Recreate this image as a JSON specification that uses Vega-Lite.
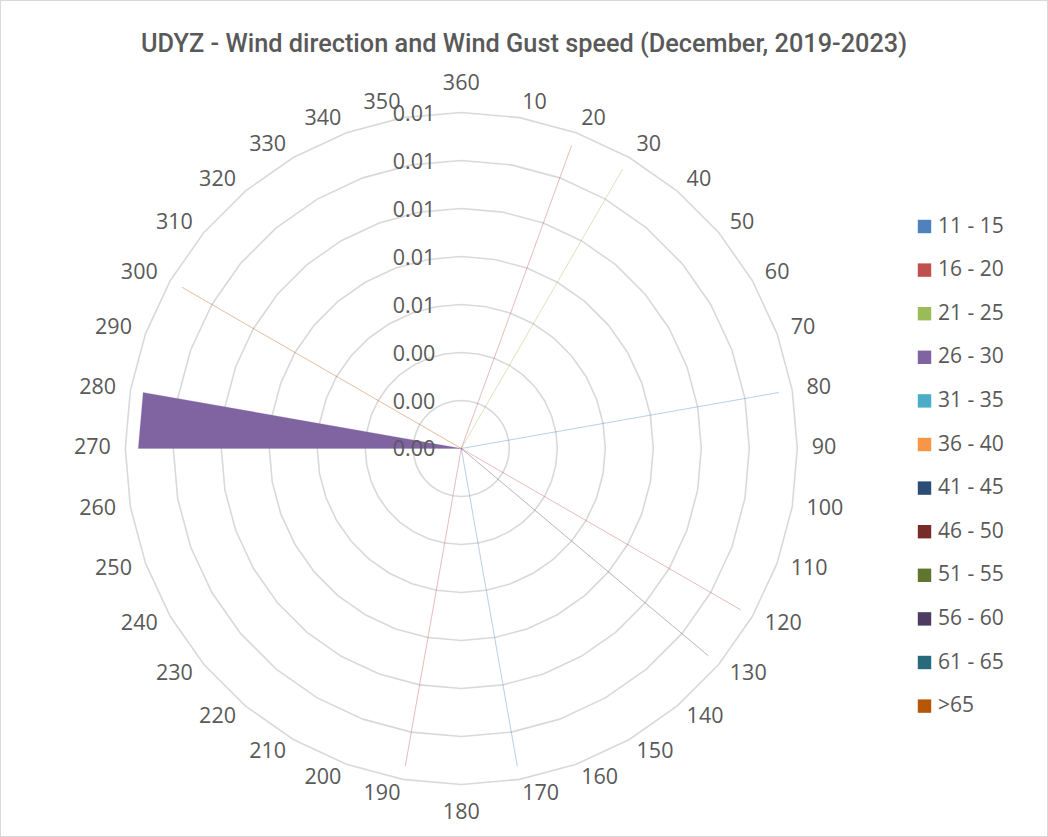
{
  "$schema": "https://vega.github.io/schema/vega-lite/v6.json",
  "width": 1048,
  "height": 837,
  "autosize": {"type": "none"},
  "padding": 0,
  "background": "white",
  "config": {"view": {"stroke": "#d9d9d9", "strokeWidth": 2}},
  "title": {
    "text": "UDYZ - Wind direction and Wind Gust speed (December, 2019-2023)",
    "font": "Roboto",
    "fontSize": 25.3,
    "fontWeight": 500,
    "color": "#595959",
    "anchor": "middle",
    "frame": "group",
    "offset": 0,
    "dy": 57
  },
  "datasets": {
    "wind": [
      {"dir":10,"11 - 15":0,"16 - 20":0,"21 - 25":0,"26 - 30":0,"31 - 35":0,"36 - 40":0,"41 - 45":0,"46 - 50":0,"51 - 55":0,"56 - 60":0,"61 - 65":0,">65":0},
      {"dir":20,"11 - 15":0,"16 - 20":0.01344,"21 - 25":0,"26 - 30":0,"31 - 35":0,"36 - 40":0,"41 - 45":0,"46 - 50":0,"51 - 55":0,"56 - 60":0,"61 - 65":0,">65":0},
      {"dir":30,"11 - 15":0,"16 - 20":0,"21 - 25":0.01344,"26 - 30":0,"31 - 35":0,"36 - 40":0,"41 - 45":0,"46 - 50":0,"51 - 55":0,"56 - 60":0,"61 - 65":0,">65":0},
      {"dir":40,"11 - 15":0,"16 - 20":0,"21 - 25":0,"26 - 30":0,"31 - 35":0,"36 - 40":0,"41 - 45":0,"46 - 50":0,"51 - 55":0,"56 - 60":0,"61 - 65":0,">65":0},
      {"dir":50,"11 - 15":0,"16 - 20":0,"21 - 25":0,"26 - 30":0,"31 - 35":0,"36 - 40":0,"41 - 45":0,"46 - 50":0,"51 - 55":0,"56 - 60":0,"61 - 65":0,">65":0},
      {"dir":60,"11 - 15":0,"16 - 20":0,"21 - 25":0,"26 - 30":0,"31 - 35":0,"36 - 40":0,"41 - 45":0,"46 - 50":0,"51 - 55":0,"56 - 60":0,"61 - 65":0,">65":0},
      {"dir":70,"11 - 15":0,"16 - 20":0,"21 - 25":0,"26 - 30":0,"31 - 35":0,"36 - 40":0,"41 - 45":0,"46 - 50":0,"51 - 55":0,"56 - 60":0,"61 - 65":0,">65":0},
      {"dir":80,"11 - 15":0.01344,"16 - 20":0,"21 - 25":0,"26 - 30":0,"31 - 35":0,"36 - 40":0,"41 - 45":0,"46 - 50":0,"51 - 55":0,"56 - 60":0,"61 - 65":0,">65":0},
      {"dir":90,"11 - 15":0,"16 - 20":0,"21 - 25":0,"26 - 30":0,"31 - 35":0,"36 - 40":0,"41 - 45":0,"46 - 50":0,"51 - 55":0,"56 - 60":0,"61 - 65":0,">65":0},
      {"dir":100,"11 - 15":0,"16 - 20":0,"21 - 25":0,"26 - 30":0,"31 - 35":0,"36 - 40":0,"41 - 45":0,"46 - 50":0,"51 - 55":0,"56 - 60":0,"61 - 65":0,">65":0},
      {"dir":110,"11 - 15":0,"16 - 20":0,"21 - 25":0,"26 - 30":0,"31 - 35":0,"36 - 40":0,"41 - 45":0,"46 - 50":0,"51 - 55":0,"56 - 60":0,"61 - 65":0,">65":0},
      {"dir":120,"11 - 15":0,"16 - 20":0.01344,"21 - 25":0,"26 - 30":0,"31 - 35":0,"36 - 40":0,"41 - 45":0,"46 - 50":0,"51 - 55":0,"56 - 60":0,"61 - 65":0,">65":0},
      {"dir":130,"11 - 15":0,"16 - 20":0,"21 - 25":0,"26 - 30":0,"31 - 35":0,"36 - 40":0,"41 - 45":0,"46 - 50":0,"51 - 55":0,"56 - 60":0.01344,"61 - 65":0,">65":0},
      {"dir":140,"11 - 15":0,"16 - 20":0,"21 - 25":0,"26 - 30":0,"31 - 35":0,"36 - 40":0,"41 - 45":0,"46 - 50":0,"51 - 55":0,"56 - 60":0,"61 - 65":0,">65":0},
      {"dir":150,"11 - 15":0,"16 - 20":0,"21 - 25":0,"26 - 30":0,"31 - 35":0,"36 - 40":0,"41 - 45":0,"46 - 50":0,"51 - 55":0,"56 - 60":0,"61 - 65":0,">65":0},
      {"dir":160,"11 - 15":0,"16 - 20":0,"21 - 25":0,"26 - 30":0,"31 - 35":0,"36 - 40":0,"41 - 45":0,"46 - 50":0,"51 - 55":0,"56 - 60":0,"61 - 65":0,">65":0},
      {"dir":170,"11 - 15":0.01344,"16 - 20":0,"21 - 25":0,"26 - 30":0,"31 - 35":0,"36 - 40":0,"41 - 45":0,"46 - 50":0,"51 - 55":0,"56 - 60":0,"61 - 65":0,">65":0},
      {"dir":180,"11 - 15":0,"16 - 20":0,"21 - 25":0,"26 - 30":0,"31 - 35":0,"36 - 40":0,"41 - 45":0,"46 - 50":0,"51 - 55":0,"56 - 60":0,"61 - 65":0,">65":0},
      {"dir":190,"11 - 15":0,"16 - 20":0.01344,"21 - 25":0,"26 - 30":0,"31 - 35":0,"36 - 40":0,"41 - 45":0,"46 - 50":0,"51 - 55":0,"56 - 60":0,"61 - 65":0,">65":0},
      {"dir":200,"11 - 15":0,"16 - 20":0,"21 - 25":0,"26 - 30":0,"31 - 35":0,"36 - 40":0,"41 - 45":0,"46 - 50":0,"51 - 55":0,"56 - 60":0,"61 - 65":0,">65":0},
      {"dir":210,"11 - 15":0,"16 - 20":0,"21 - 25":0,"26 - 30":0,"31 - 35":0,"36 - 40":0,"41 - 45":0,"46 - 50":0,"51 - 55":0,"56 - 60":0,"61 - 65":0,">65":0},
      {"dir":220,"11 - 15":0,"16 - 20":0,"21 - 25":0,"26 - 30":0,"31 - 35":0,"36 - 40":0,"41 - 45":0,"46 - 50":0,"51 - 55":0,"56 - 60":0,"61 - 65":0,">65":0},
      {"dir":230,"11 - 15":0,"16 - 20":0,"21 - 25":0,"26 - 30":0,"31 - 35":0,"36 - 40":0,"41 - 45":0,"46 - 50":0,"51 - 55":0,"56 - 60":0,"61 - 65":0,">65":0},
      {"dir":240,"11 - 15":0,"16 - 20":0,"21 - 25":0,"26 - 30":0,"31 - 35":0,"36 - 40":0,"41 - 45":0,"46 - 50":0,"51 - 55":0,"56 - 60":0,"61 - 65":0,">65":0},
      {"dir":250,"11 - 15":0,"16 - 20":0,"21 - 25":0,"26 - 30":0,"31 - 35":0,"36 - 40":0,"41 - 45":0,"46 - 50":0,"51 - 55":0,"56 - 60":0,"61 - 65":0,">65":0},
      {"dir":260,"11 - 15":0,"16 - 20":0,"21 - 25":0,"26 - 30":0,"31 - 35":0,"36 - 40":0,"41 - 45":0,"46 - 50":0,"51 - 55":0,"56 - 60":0,"61 - 65":0,">65":0},
      {"dir":270,"11 - 15":0,"16 - 20":0,"21 - 25":0,"26 - 30":0.01346,"31 - 35":0,"36 - 40":0,"41 - 45":0,"46 - 50":0,"51 - 55":0,"56 - 60":0,"61 - 65":0,">65":0},
      {"dir":280,"11 - 15":0,"16 - 20":0,"21 - 25":0,"26 - 30":0.01346,"31 - 35":0,"36 - 40":0,"41 - 45":0,"46 - 50":0,"51 - 55":0,"56 - 60":0,"61 - 65":0,">65":0},
      {"dir":290,"11 - 15":0,"16 - 20":0,"21 - 25":0,"26 - 30":0,"31 - 35":0,"36 - 40":0,"41 - 45":0,"46 - 50":0,"51 - 55":0,"56 - 60":0,"61 - 65":0,">65":0},
      {"dir":300,"11 - 15":0,"16 - 20":0,"21 - 25":0,"26 - 30":0,"31 - 35":0,"36 - 40":0,"41 - 45":0,"46 - 50":0,"51 - 55":0,"56 - 60":0,"61 - 65":0,">65":0.01344},
      {"dir":310,"11 - 15":0,"16 - 20":0,"21 - 25":0,"26 - 30":0,"31 - 35":0,"36 - 40":0,"41 - 45":0,"46 - 50":0,"51 - 55":0,"56 - 60":0,"61 - 65":0,">65":0},
      {"dir":320,"11 - 15":0,"16 - 20":0,"21 - 25":0,"26 - 30":0,"31 - 35":0,"36 - 40":0,"41 - 45":0,"46 - 50":0,"51 - 55":0,"56 - 60":0,"61 - 65":0,">65":0},
      {"dir":330,"11 - 15":0,"16 - 20":0,"21 - 25":0,"26 - 30":0,"31 - 35":0,"36 - 40":0,"41 - 45":0,"46 - 50":0,"51 - 55":0,"56 - 60":0,"61 - 65":0,">65":0},
      {"dir":340,"11 - 15":0,"16 - 20":0,"21 - 25":0,"26 - 30":0,"31 - 35":0,"36 - 40":0,"41 - 45":0,"46 - 50":0,"51 - 55":0,"56 - 60":0,"61 - 65":0,">65":0},
      {"dir":350,"11 - 15":0,"16 - 20":0,"21 - 25":0,"26 - 30":0,"31 - 35":0,"36 - 40":0,"41 - 45":0,"46 - 50":0,"51 - 55":0,"56 - 60":0,"61 - 65":0,">65":0},
      {"dir":360,"11 - 15":0,"16 - 20":0,"21 - 25":0,"26 - 30":0,"31 - 35":0,"36 - 40":0,"41 - 45":0,"46 - 50":0,"51 - 55":0,"56 - 60":0,"61 - 65":0,">65":0}
    ],
    "rings": [
      {"level":0.002,"dir":[10,20,30,40,50,60,70,80,90,100,110,120,130,140,150,160,170,180,190,200,210,220,230,240,250,260,270,280,290,300,310,320,330,340,350,360]},
      {"level":0.004,"dir":[10,20,30,40,50,60,70,80,90,100,110,120,130,140,150,160,170,180,190,200,210,220,230,240,250,260,270,280,290,300,310,320,330,340,350,360]},
      {"level":0.006,"dir":[10,20,30,40,50,60,70,80,90,100,110,120,130,140,150,160,170,180,190,200,210,220,230,240,250,260,270,280,290,300,310,320,330,340,350,360]},
      {"level":0.008,"dir":[10,20,30,40,50,60,70,80,90,100,110,120,130,140,150,160,170,180,190,200,210,220,230,240,250,260,270,280,290,300,310,320,330,340,350,360]},
      {"level":0.010,"dir":[10,20,30,40,50,60,70,80,90,100,110,120,130,140,150,160,170,180,190,200,210,220,230,240,250,260,270,280,290,300,310,320,330,340,350,360]},
      {"level":0.012,"dir":[10,20,30,40,50,60,70,80,90,100,110,120,130,140,150,160,170,180,190,200,210,220,230,240,250,260,270,280,290,300,310,320,330,340,350,360]},
      {"level":0.014,"dir":[10,20,30,40,50,60,70,80,90,100,110,120,130,140,150,160,170,180,190,200,210,220,230,240,250,260,270,280,290,300,310,320,330,340,350,360]}
    ],
    "levels": [
      {"level":0},{"level":0.002},{"level":0.004},{"level":0.006},{"level":0.008},{"level":0.010},{"level":0.012},{"level":0.014}
    ]
  },
  "encoding": {
    "x": {"field": "x", "type": "quantitative", "axis": null, "scale": {"domain": [-0.019221, 0.024446], "nice": false, "zero": false}},
    "y": {"field": "y", "type": "quantitative", "axis": null, "scale": {"domain": [-0.016188, 0.018688], "nice": false, "zero": false}}
  },
  "layer": [
    {
      "data": {"name": "rings"},
      "transform": [
        {"flatten": ["dir"]},
        {"calculate": "datum.level*sin(datum.dir*PI/180)", "as": "x"},
        {"calculate": "datum.level*cos(datum.dir*PI/180)", "as": "y"}
      ],
      "mark": {"type": "line", "interpolate": "linear-closed", "stroke": "#d9d9d9", "strokeWidth": 1.6},
      "encoding": {
        "detail": {"field": "level", "type": "nominal"},
        "order": {"field": "dir", "type": "quantitative"}
      }
    },
    {
      "data": {"name": "wind"},
      "transform": [
        {"fold": ["11 - 15","16 - 20","21 - 25","26 - 30","31 - 35","36 - 40","41 - 45","46 - 50","51 - 55","56 - 60","61 - 65",">65"], "as": ["band","freq"]},
        {"calculate": "datum.freq*sin(datum.dir*PI/180)", "as": "x"},
        {"calculate": "datum.freq*cos(datum.dir*PI/180)", "as": "y"}
      ],
      "mark": {"type": "line", "interpolate": "linear-closed", "filled": true, "strokeWidth": 0.7, "strokeOpacity": 0.3},
      "encoding": {
        "fill": {
          "field": "band", "type": "nominal",
          "scale": {"domain": ["11 - 15","16 - 20","21 - 25","26 - 30","31 - 35","36 - 40","41 - 45","46 - 50","51 - 55","56 - 60","61 - 65",">65"],
                    "range": ["#4F81BD","#C0504D","#9BBB59","#8064A2","#4BACC6","#F79646","#2C4D75","#772C2A","#5F7530","#4D3B62","#276A7C","#B65708"]},
          "legend": {"orient": "none", "legendX": 914, "legendY": 216, "title": null, "padding": 0,
                     "symbolType": "square", "symbolSize": 180, "symbolStrokeWidth": 0, "symbolOpacity": 1,
                     "labelFont": "Open Sans", "labelFontSize": 21, "labelColor": "#595959",
                     "labelOffset": 3, "rowPadding": 21.6}
        },
        "stroke": {
          "field": "band", "type": "nominal", "legend": null,
          "scale": {"domain": ["11 - 15","16 - 20","21 - 25","26 - 30","31 - 35","36 - 40","41 - 45","46 - 50","51 - 55","56 - 60","61 - 65",">65"],
                    "range": ["#4F81BD","#C0504D","#9BBB59","#8064A2","#4BACC6","#F79646","#2C4D75","#772C2A","#5F7530","#4D3B62","#276A7C","#B65708"]}
        },
        "order": {"field": "dir", "type": "quantitative"}
      }
    },
    {
      "data": {"name": "wind"},
      "transform": [
        {"filter": "datum.dir > 0 && datum.dir < 180"},
        {"calculate": "0.014604*sin(datum.dir*PI/180)", "as": "x"},
        {"calculate": "0.014625*cos(datum.dir*PI/180)", "as": "y"}
      ],
      "mark": {"type": "text", "align": "left", "baseline": "middle", "font": "Open Sans", "fontSize": 21.5, "color": "#595959"},
      "encoding": {"text": {"field": "dir", "type": "quantitative"}}
    },
    {
      "data": {"name": "wind"},
      "transform": [
        {"filter": "datum.dir > 180 && datum.dir < 360"},
        {"calculate": "0.014604*sin(datum.dir*PI/180)", "as": "x"},
        {"calculate": "0.014625*cos(datum.dir*PI/180)", "as": "y"}
      ],
      "mark": {"type": "text", "align": "right", "baseline": "middle", "font": "Open Sans", "fontSize": 21.5, "color": "#595959"},
      "encoding": {"text": {"field": "dir", "type": "quantitative"}}
    },
    {
      "data": {"name": "wind"},
      "transform": [
        {"filter": "datum.dir == 180 || datum.dir == 360"},
        {"calculate": "0.01519*sin(datum.dir*PI/180)", "as": "x"},
        {"calculate": "0.01519*cos(datum.dir*PI/180)", "as": "y"}
      ],
      "mark": {"type": "text", "align": "center", "baseline": "middle", "font": "Open Sans", "fontSize": 21.5, "color": "#595959"},
      "encoding": {"text": {"field": "dir", "type": "quantitative"}}
    },
    {
      "data": {"name": "levels"},
      "transform": [
        {"calculate": "0", "as": "x"},
        {"calculate": "datum.level", "as": "y"}
      ],
      "mark": {"type": "text", "align": "right", "baseline": "middle", "dx": -26, "dy": 2, "font": "Open Sans", "fontSize": 21.5, "color": "#595959"},
      "encoding": {"text": {"field": "level", "type": "quantitative", "format": ".2f"}}
    }
  ]
}
